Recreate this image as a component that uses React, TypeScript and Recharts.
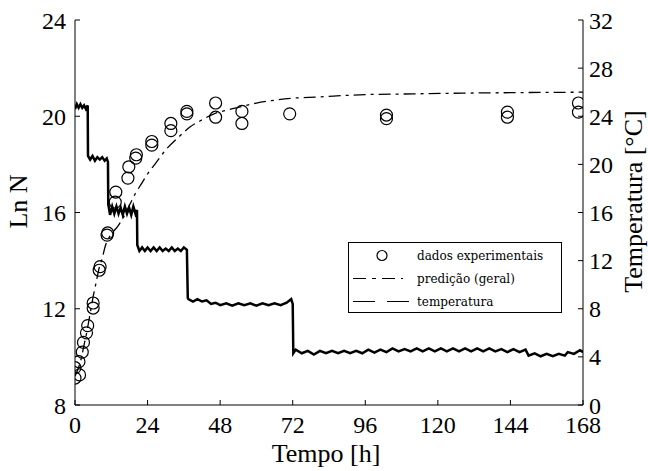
import React from "react";
import { ComposedChart, Line, Scatter, XAxis, YAxis, Legend, Label } from "recharts";

const hourTicks = [0, 24, 48, 72, 96, 120, 144, 168];
const lnTicks = [8, 12, 16, 20, 24];
const tempTicks = [0, 4, 8, 12, 16, 20, 24, 28, 32];

// dados experimentais (circles)
const sampleHours = [
  0, 0, 1.5, 1.3, 2.4, 2.8, 3.8, 4.2, 6, 6, 8, 8.3, 10.6, 10.8, 13.5, 13.3,
  17.5, 17.8, 20.1, 20.3, 25.4, 25.4, 31.7, 31.7, 37, 37, 46.5, 46.5, 55.2,
  55.2, 71, 103, 103, 143, 143, 166.5, 166.5,
];
const sampleLnN = [
  9.55, 9.12, 9.25, 9.8, 10.2, 10.6, 11.0, 11.3, 12.24, 12.03, 13.6, 13.75,
  15.06, 15.15, 16.85, 16.43, 17.43, 17.9, 18.26, 18.4, 18.95, 18.8, 19.7,
  19.4, 20.1, 20.2, 20.55, 19.96, 20.2, 19.7, 20.1, 20.05, 19.9, 20.17, 19.96,
  20.55, 20.17,
];

// predição (geral)
const predHours = [
  0, 1, 2, 3, 4, 5, 6, 7, 8, 9, 10, 12, 14, 16, 18, 20, 22, 24, 27, 30, 34, 38,
  42, 46, 50, 55, 60, 65, 72, 80, 96, 112, 128, 144, 168,
];
const predLnN = [
  9.2, 9.5, 9.9, 10.5, 11.1, 11.8, 12.5, 13.1, 13.7, 14.1, 14.6, 15.1, 15.4,
  15.8, 16.3, 16.8, 17.2, 17.6, 18.1, 18.6, 19.1, 19.55, 19.85, 20.1, 20.25,
  20.4, 20.55, 20.65, 20.75, 20.8, 20.9, 20.93, 20.96, 20.98, 21.0,
];

// temperatura (logged)
const tempHours = [
  0, 0.6, 1.2, 1.8, 2.4, 3.0, 3.6, 4.2,
  4.3, 5.0, 5.8, 6.6, 7.4, 8.2, 9.0, 9.8, 10.5, 10.9,
  11.0, 11.6, 12.3, 13.0, 13.7, 14.4, 15.1, 15.8, 16.5, 17.2, 17.9, 18.6, 19.3, 20.0, 20.5,
  20.6, 21.3, 22.2, 23.1, 24, 25, 26, 27, 28, 29, 30, 31, 32, 33, 34, 35, 36, 37.0,
  37.3, 37.5, 39, 40.5, 42, 43.5, 45, 46.5, 48, 50, 52, 54, 56, 58, 60, 62, 64,
  66, 68, 70, 71.5, 72,
  72.2, 73, 75, 77, 79, 81, 83, 85, 87, 89, 91, 93, 95, 97, 99, 101, 103, 105,
  107, 109, 111, 113, 115, 117, 119, 121, 123, 125, 127, 129, 131, 133, 135,
  137, 139, 141, 143, 145, 147, 149, 150, 152, 154, 156, 158, 160, 162, 163,
  165, 167, 168,
];
const tempCelsius = [
  24.6, 25.0, 24.7, 25.0, 24.7, 24.9, 24.6, 24.9,
  20.7, 20.4, 20.7, 20.3, 20.6, 20.4, 20.6, 20.3, 20.5, 20.2,
  16.7, 15.8, 16.5, 15.9, 16.5, 15.9, 16.4, 15.8, 16.5, 15.9, 16.4, 15.8, 16.5, 15.9, 16.2,
  13.3, 12.8, 13.1, 12.8, 13.1, 12.8, 13.1, 12.8, 13.1, 12.8, 13.0, 12.8, 13.1, 12.8, 13.0, 12.8, 13.1, 12.9,
  8.9, 8.8, 8.6, 8.8, 8.6, 8.7, 8.4, 8.5, 8.3, 8.45, 8.25, 8.45, 8.3, 8.45, 8.25,
  8.45, 8.3, 8.45, 8.3, 8.5, 8.8, 8.4,
  4.3, 4.6, 4.3, 4.5, 4.2, 4.5, 4.3, 4.5, 4.3, 4.5, 4.3, 4.5, 4.3, 4.6, 4.35,
  4.6, 4.4, 4.7, 4.45, 4.65, 4.45, 4.7, 4.45, 4.7, 4.45, 4.7, 4.45, 4.7, 4.45,
  4.7, 4.45, 4.7, 4.45, 4.7, 4.45, 4.65, 4.4, 4.65, 4.4, 4.6, 4.1, 4.3, 4.05,
  4.25, 4.05, 4.25, 4.1, 4.4, 4.25, 4.55, 4.4,
];

const samples = sampleHours.map((t, i) => ({ t, ln: sampleLnN[i] }));
const prediction = predHours.map((t, i) => ({ t, ln: predLnN[i] }));
const temperature = tempHours.map((t, i) => ({ t, temp: tempCelsius[i] }));

const serif = "'Liberation Serif', 'Times New Roman', serif";
const tickStyle = { fontFamily: serif, fontSize: 24, fill: "#000" };
const titleStyle = { fontFamily: serif, fontSize: 26, fill: "#000" };

const Ring = (props: any) => {
  const { cx, cy } = props;
  if (cx == null || cy == null) return null;
  return <circle cx={cx} cy={cy} r={6} fill="none" stroke="#000" strokeWidth={1.2} />;
};

const LeftTitle = (props: any) => {
  const vb = props.viewBox || { x: 0, y: 20, width: 75, height: 385 };
  const x = vb.x + 27;
  const y = vb.y + vb.height / 2 - 11;
  return (
    <text x={x} y={y} transform={`rotate(-90 ${x} ${y})`} textAnchor="middle" style={titleStyle}>
      Ln N
    </text>
  );
};

const RightTitle = (props: any) => {
  const vb = props.viewBox || { x: 583, y: 20, width: 65, height: 385 };
  const x = vb.x + 59;
  const y = vb.y + vb.height / 2 - 11;
  return (
    <text x={x} y={y} transform={`rotate(-90 ${x} ${y})`} textAnchor="middle" style={titleStyle}>
      Temperatura [°C]
    </text>
  );
};

const BottomTitle = (props: any) => {
  const vb = props.viewBox || { x: 75, y: 405, width: 508, height: 66 };
  return (
    <text x={vb.x + vb.width / 2 - 3} y={vb.y + 57} textAnchor="middle" style={titleStyle}>
      Tempo [h]
    </text>
  );
};

const LegendBox = () => {
  const row = { height: 23, display: "flex", alignItems: "center" } as const;
  return (
    <div
      style={{
        width: 214,
        height: 71,
        boxSizing: "border-box",
        border: "1px solid #000",
        background: "#fff",
        paddingTop: 1,
        fontFamily: "'DejaVu Serif', serif",
        fontSize: 12,
        color: "#000",
      }}
    >
      <div style={row}>
        <svg width={68} height={23}>
          <circle cx={33} cy={11.5} r={5} fill="none" stroke="#000" strokeWidth={1.2} />
        </svg>
        <span>dados experimentais</span>
      </div>
      <div style={row}>
        <svg width={68} height={23}>
          <line x1={4} x2={64} y1={11.5} y2={11.5} stroke="#000" strokeDasharray="13 6 4 6 13 6 2" />
        </svg>
        <span>predição (geral)</span>
      </div>
      <div style={row}>
        <svg width={68} height={23}>
          <line x1={4} x2={64} y1={11.5} y2={11.5} stroke="#000" strokeDasharray="22 12" />
        </svg>
        <span>temperatura</span>
      </div>
    </div>
  );
};

export default function App() {
  return (
    <div style={{ width: 648, height: 471 }}>
      <style>{"body{margin:0}"}</style>
      <ComposedChart width={648} height={471} margin={{ top: 20, right: 0, bottom: 0, left: 0 }}>
        <XAxis
          type="number"
          dataKey="t"
          domain={[0, 168]}
          ticks={hourTicks}
          height={66}
          tickSize={-5}
          tickMargin={16}
          tick={tickStyle}
          axisLine={{ stroke: "#000" }}
          tickLine={{ stroke: "#000" }}
          allowDataOverflow
        >
          <Label content={<BottomTitle />} />
        </XAxis>
        <YAxis
          yAxisId="ln"
          dataKey="ln"
          domain={[8, 24]}
          ticks={lnTicks}
          width={75}
          tickSize={-5}
          tickMargin={14}
          tick={tickStyle}
          axisLine={{ stroke: "#000" }}
          tickLine={{ stroke: "#000" }}
          allowDataOverflow
        >
          <Label content={<LeftTitle />} />
        </YAxis>
        <YAxis
          yAxisId="temp"
          orientation="right"
          dataKey="temp"
          domain={[0, 32]}
          ticks={tempTicks}
          width={65}
          tickSize={-5}
          tickMargin={11}
          tick={tickStyle}
          axisLine={{ stroke: "#000" }}
          tickLine={{ stroke: "#000" }}
          allowDataOverflow
        >
          <Label content={<RightTitle />} />
        </YAxis>
        <Line
          yAxisId="temp"
          data={temperature}
          dataKey="temp"
          type="linear"
          stroke="#000"
          strokeWidth={2.5}
          dot={false}
          isAnimationActive={false}
        />
        <Line
          yAxisId="ln"
          data={prediction}
          dataKey="ln"
          type="monotone"
          stroke="#000"
          strokeWidth={1.3}
          strokeDasharray="12 5 3 5"
          dot={false}
          isAnimationActive={false}
        />
        <Scatter
          yAxisId="ln"
          data={samples}
          dataKey="ln"
          shape={<Ring />}
          isAnimationActive={false}
        />
        <Legend
          layout="vertical"
          align="center"
          verticalAlign="middle"
          content={<LegendBox />}
          wrapperStyle={{ left: 348, top: 242, width: 214, height: 71 }}
        />
      </ComposedChart>
    </div>
  );
}
